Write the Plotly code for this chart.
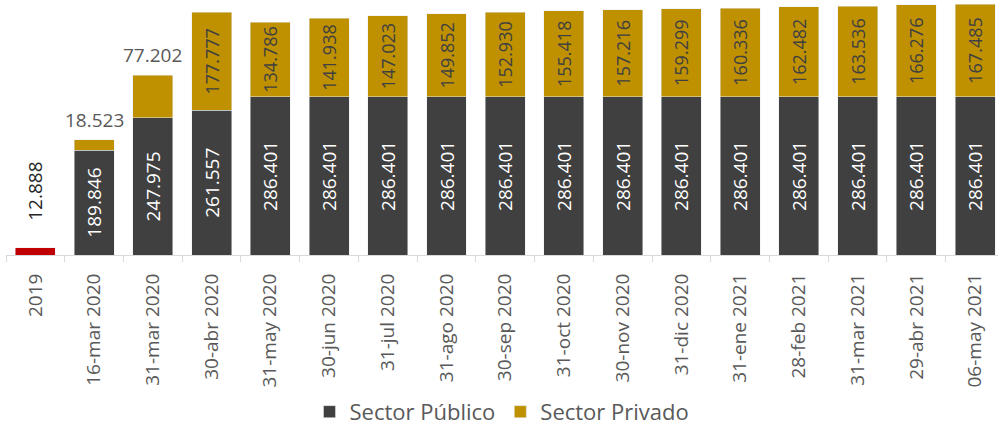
import plotly.graph_objects as go

fechas = ['2019', '16-mar 2020', '31-mar 2020', '30-abr 2020', '31-may 2020',
          '30-jun 2020', '31-jul 2020', '31-ago 2020', '30-sep 2020', '31-oct 2020',
          '30-nov 2020', '31-dic 2020', '31-ene 2021', '28-feb 2021', '31-mar 2021',
          '29-abr 2021', '06-may 2021']

# 2019 only has a total (red bar)
total_2019 = [12.888]

publico = [None, 189.846, 247.975, 261.557, 286.401, 286.401, 286.401, 286.401,
           286.401, 286.401, 286.401, 286.401, 286.401, 286.401, 286.401, 286.401,
           286.401]
privado = [None, 18.523, 77.202, 177.777, 134.786, 141.938, 147.023, 149.852,
           152.930, 155.418, 157.216, 159.299, 160.336, 162.482, 163.536, 166.276,
           167.485]

def fmt(v):
    return f'{v:,.3f}'.replace(',', '.') if v is not None else ''

FONT = 'Open Sans'
GRIS = '#404040'
ORO = '#BF9000'
ROJO = '#C00000'
TXT = '#595959'

fig = go.Figure()

fig.add_trace(go.Bar(
    x=fechas[:1], y=total_2019,
    marker=dict(color=ROJO),
    showlegend=False,
    hoverinfo='skip',
))

fig.add_trace(go.Bar(
    x=fechas, y=publico,
    name='Sector Público',
    marker=dict(color=GRIS),
    text=[fmt(v) for v in publico],
    textposition='inside',
    insidetextanchor='middle',
    textangle=-90,
    textfont=dict(color='white', size=19, family=FONT),
    constraintext='none',
))

# small privado values get their label above the bar instead
priv_text = [fmt(v) if (v is not None and v > 100) else '' for v in privado]
fig.add_trace(go.Bar(
    x=fechas, y=privado,
    name='Sector Privado',
    marker=dict(color=ORO),
    text=priv_text,
    textposition='inside',
    insidetextanchor='middle',
    textangle=-90,
    textfont=dict(color=GRIS, size=18, family=FONT),
    constraintext='none',
))

for i, v in enumerate(privado):
    if v is not None and v < 100:
        fig.add_annotation(
            x=i, y=publico[i] + v,
            text=fmt(v), showarrow=False,
            yanchor='bottom', yshift=5,
            font=dict(color=TXT, size=19, family=FONT),
        )

fig.add_annotation(
    x=fechas.index('2019'), y=total_2019[0],
    text=fmt(total_2019[0]), showarrow=False,
    textangle=-90, yanchor='bottom', yshift=25,
    font=dict(color='#262626', size=19, family=FONT),
)

fig.update_layout(
    width=998, height=429,
    barmode='stack',
    bargap=0.32,
    plot_bgcolor='white',
    paper_bgcolor='white',
    margin=dict(l=6, r=0, t=0, b=174),
    font=dict(family=FONT, color=TXT, size=18),
    legend=dict(
        orientation='h',
        traceorder='normal',
        x=0.5, xanchor='center',
        yref='container',
        y=0.04, yanchor='middle',
        font=dict(size=22, color=TXT),
        itemwidth=30,
    ),
    xaxis=dict(
        type='category',
        range=[-0.5, 16.39],
        automargin=False,
        showline=True, linecolor='#d9d9d9', linewidth=1,
        ticks='outside', tickson='boundaries', ticklen=6, tickcolor='#d9d9d9',
        tickangle=-90,
        tickfont=dict(size=19, color=TXT, family=FONT),
        ticklabelstandoff=10,
        showgrid=False,
    ),
    yaxis=dict(
        range=[0, 461.5],
        visible=False,
        automargin=False,
    ),
)

# drop the default page margin so the figure sits at the window corner
fig.write_html('out.html', config={'displayModeBar': False},
               post_script="document.body.style.margin='0';")
